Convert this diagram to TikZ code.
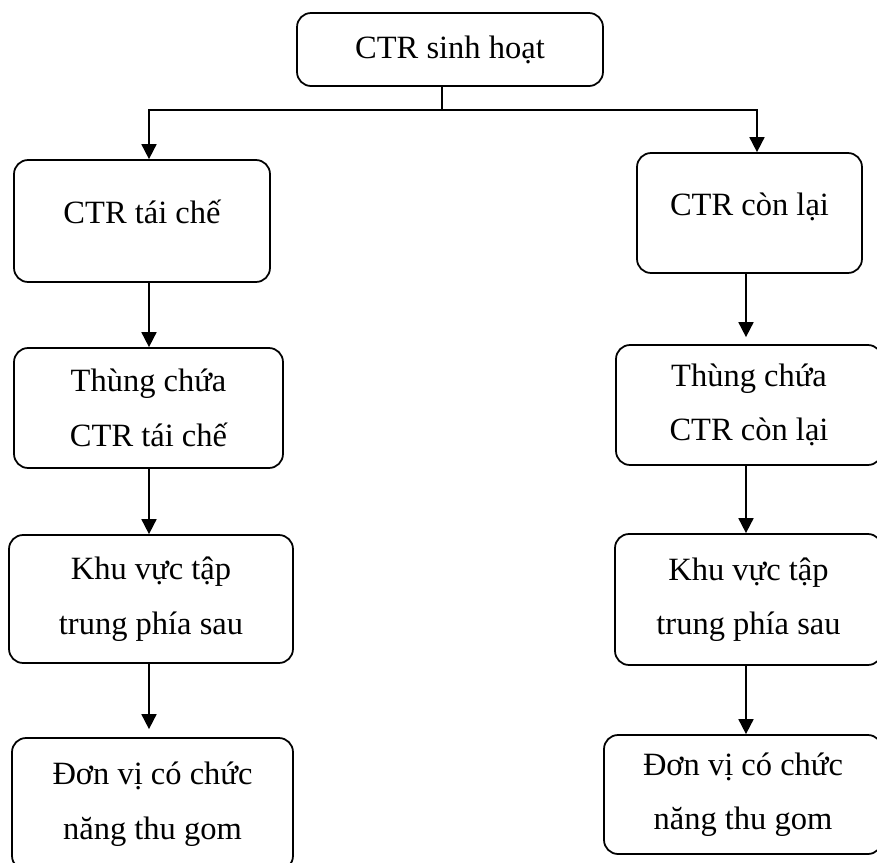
\documentclass[tikz,border=0pt]{standalone}
\usepackage{fontspec}
\setmainfont{Liberation Serif}
\usetikzlibrary{arrows.meta}
\tikzset{
  stage/.style={draw, line width=1pt, rounded corners=0.28cm, align=center,
    inner sep=0pt, font=\fontsize{18.5}{31}\selectfont},
  flow/.style={line width=1pt, -{Triangle[width=8.5pt,length=8.5pt]}},
  link/.style={line width=1pt},
}
\begin{document}
\begin{tikzpicture}[x=0.02cm, y=-0.02cm]
    % Page frame (boxes on the right and bottom run past it)
    \clip (0,0) rectangle (877,863);
    % Source
    \node[stage, minimum width=6.12cm, minimum height=1.46cm] (sh) at (450,49.5) {CTR sinh hoạt};
    % Left branch
    \node[stage, minimum width=5.12cm, minimum height=2.44cm] (tc) at (142,221) {CTR tái chế\\[-21pt]};
    \node[stage, minimum width=5.38cm, minimum height=2.40cm] (thtc) at (148.5,408) {Thùng chứa\\CTR tái chế};
    \node[stage, minimum width=5.68cm, minimum height=2.56cm] (kvtc) at (151,599) {Khu vực tập\\trung phía sau};
    \node[stage, minimum width=5.62cm, minimum height=2.64cm] (dvtc) at (152.5,804) {Đơn vị có chức\\năng thu gom};
    % Right branch
    \node[stage, minimum width=4.50cm, minimum height=2.40cm] (cl) at (749.5,213) {CTR còn lại\\[-21pt]};
    \node[stage, minimum width=5.32cm, minimum height=2.40cm] (thcl) at (749,405) {Thùng chứa\\CTR còn lại};
    \node[stage, minimum width=5.34cm, minimum height=2.62cm] (kvcl) at (748.5,599.5) {Khu vực tập\\trung phía sau};
    \node[stage, minimum width=5.56cm, minimum height=2.38cm] (dvcl) at (743,794.5) {Đơn vị có chức\\năng thu gom};
    % Split under the source
    \coordinate (jn) at (442,110);
    \coordinate (lc) at (149,0);
    \coordinate (rc) at (746,0);
    \draw[link] (jn |- sh.south) -- (jn);
    \draw[flow] (jn) -| (lc |- tc.north);
    \draw[flow] (jn) -| ([xshift=0.15cm]cl.north);
    % Left column arrows
    \draw[flow] (lc |- tc.south) -- (lc |- thtc.north);
    \draw[flow] (lc |- thtc.south) -- (lc |- kvtc.north);
    \draw[flow, shorten >=0.16cm] (lc |- kvtc.south) -- (lc |- dvtc.north);
    % Right column arrows
    \draw[flow, shorten >=0.14cm] (rc |- cl.south) -- (rc |- thcl.north);
    \draw[flow] (rc |- thcl.south) -- (rc |- kvcl.north);
    \draw[flow] (rc |- kvcl.south) -- (rc |- dvcl.north);
\end{tikzpicture}
\end{document}
